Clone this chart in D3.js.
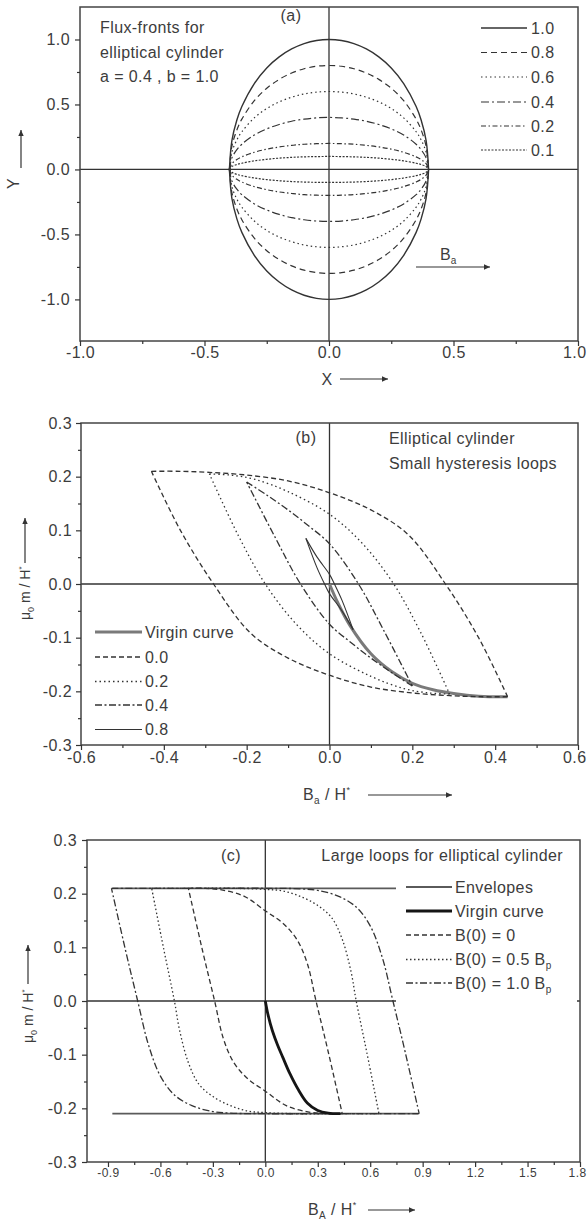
<!DOCTYPE html>
<html lang="en">
<head>
<meta charset="UTF-8">
<title>Elliptical cylinder: flux fronts and hysteresis loops</title>
<script src="https://d3js.org/d3.v7.min.js"></script>
<style>
  body { margin: 0; background: #fff; }
  svg { display: block; }
</style>
</head>
<body>
<svg id="chart" width="587" height="1224"></svg>
<script>
// ---------- data ----------

// (a) flux fronts, upper right quarter (mirrored in x and y when drawn)
const frontLabels = ["1.0", "0.8", "0.6", "0.4", "0.2", "0.1"];
const frontX  = [0, 0.05, 0.1, 0.15, 0.2, 0.25, 0.3, 0.35, 0.37, 0.39, 0.4];
const front10 = [1.0, 0.992, 0.968, 0.927, 0.866, 0.781, 0.661, 0.484, 0.38, 0.222, 0];
const front08 = [0.8, 0.794, 0.775, 0.742, 0.693, 0.625, 0.529, 0.387, 0.304, 0.178, 0];
const front06 = [0.6, 0.595, 0.581, 0.556, 0.52, 0.469, 0.397, 0.29, 0.228, 0.133, 0];
const front04 = [0.4, 0.397, 0.387, 0.371, 0.346, 0.312, 0.265, 0.194, 0.152, 0.089, 0];
const front02 = [0.2, 0.198, 0.194, 0.185, 0.173, 0.156, 0.132, 0.097, 0.076, 0.044, 0];
const front01 = [0.1, 0.099, 0.097, 0.093, 0.087, 0.078, 0.066, 0.048, 0.038, 0.022, 0];

const aXTicks = [-1.0, -0.5, 0.0, 0.5, 1.0];
const aXMinor = [-0.75, -0.25, 0.25, 0.75];
const aYTicks = [-1.0, -0.5, 0.0, 0.5, 1.0];
const aYMinor = [-0.75, -0.25, 0.25, 0.75];

// (b) small hysteresis loops: descending branch (the other one is its point reflection)
const bLabels = ["Virgin curve", "0.0", "0.2", "0.4", "0.8"];
const bVirginX = [0, 0.02, 0.05, 0.1, 0.15, 0.2, 0.25, 0.3, 0.36, 0.43];
const bVirginY = [0, -0.035, -0.078, -0.13, -0.163, -0.185, -0.197, -0.204, -0.209, -0.21];
const bLoop00X = [-0.43, -0.36, -0.29, -0.2, -0.1, 0, 0.1, 0.19, 0.28, 0.36, 0.43];
const bLoop00Y = [0.21, 0.21, 0.208, 0.203, 0.192, 0.17, 0.138, 0.092, 0.0, -0.1, -0.21];
const bLoop02X = [-0.29, -0.24, -0.18, -0.1, 0, 0.08, 0.155, 0.22, 0.29];
const bLoop02Y = [0.205, 0.203, 0.195, 0.172, 0.13, 0.075, 0.0, -0.09, -0.205];
const bLoop04X = [-0.2, -0.15, -0.1, -0.05, 0, 0.07, 0.13, 0.2];
const bLoop04Y = [0.19, 0.165, 0.138, 0.108, 0.075, 0.0, -0.085, -0.19];
const bLoop08X = [-0.057, -0.03, 0, 0.012, 0.03, 0.057];
const bLoop08Y = [0.085, 0.05, 0.018, 0, -0.03, -0.085];

const bXTicks = [-0.6, -0.4, -0.2, 0.0, 0.2, 0.4, 0.6];
const bXMinor = [-0.5, -0.3, -0.1, 0.1, 0.3, 0.5];
const mTicks  = [-0.3, -0.2, -0.1, 0.0, 0.1, 0.2, 0.3];
const mMinor  = [-0.25, -0.15, -0.05, 0.05, 0.15, 0.25];

// (c) large loops
const cEnvX = [-0.875, 0.875];
const cEnvTop = [0.21, 0.21];
const cEnvBottom = [-0.21, -0.21];
const cVirginX = [0, 0.015, 0.04, 0.07, 0.1, 0.14, 0.19, 0.24, 0.3, 0.36, 0.43];
const cVirginY = [0, -0.025, -0.055, -0.082, -0.105, -0.135, -0.166, -0.19, -0.204, -0.209, -0.21];
const cLoop0X  = [-0.44, -0.35, -0.25, -0.12, 0, 0.1, 0.18, 0.24, 0.29, 0.36, 0.44];
const cLoop0Y  = [0.21, 0.21, 0.207, 0.195, 0.168, 0.145, 0.115, 0.07, 0.0, -0.095, -0.21];
const cLoop05X = [-0.65, -0.4, -0.2, 0, 0.1, 0.2, 0.3, 0.38, 0.44, 0.49, 0.52, 0.58, 0.65];
const cLoop05Y = [0.21, 0.21, 0.21, 0.208, 0.205, 0.195, 0.178, 0.155, 0.115, 0.055, 0.0, -0.095, -0.21];
const cLoop10X = [-0.88, -0.6, -0.3, 0, 0.2, 0.3, 0.42, 0.52, 0.6, 0.67, 0.73, 0.8, 0.88];
const cLoop10Y = [0.21, 0.21, 0.21, 0.21, 0.209, 0.206, 0.195, 0.175, 0.14, 0.08, 0.0, -0.095, -0.21];

const cXTicks = [-0.9, -0.6, -0.3, 0.0, 0.3, 0.6, 0.9, 1.2, 1.5, 1.8];
const cXMinor = [-0.75, -0.45, -0.15, 0.15, 0.45, 0.75, 1.05, 1.35, 1.65];

// ---------- drawing ----------
const svg = d3.select("#chart");
const FONT = "'Liberation Sans', Arial, Helvetica, sans-serif";
const INK = "#333";
const TXT = "#3c3c3c";
const PAGE_W = 587;

svg.append("rect").attr("width", PAGE_W).attr("height", 1224).attr("fill", "#fff");

svg.append("defs").append("marker")
    .attr("id", "arrow")
    .attr("viewBox", "0 0 10 10")
    .attr("refX", 10).attr("refY", 5)
    .attr("markerWidth", 7).attr("markerHeight", 5)
    .attr("orient", "auto")
  .append("path")
    .attr("d", "M0,0.5 L10,5 L0,9.5 Z")
    .attr("fill", INK);

const fmt = d => d.toFixed(1);
const smooth = d3.curveCatmullRom.alpha(0.5);

function drawPanel(p) {
    const g = svg.append("g");
    const [left, right] = p.x.range();
    const [bottom, top] = p.y.range();

    // zero lines
    g.append("line")
        .attr("x1", left).attr("x2", right)
        .attr("y1", p.y(0)).attr("y2", p.y(0))
        .attr("stroke", INK).attr("stroke-width", 1.3);
    g.append("line")
        .attr("x1", p.x(0)).attr("x2", p.x(0))
        .attr("y1", top).attr("y2", bottom)
        .attr("stroke", INK).attr("stroke-width", 1.3);

    g.append("rect")
        .attr("x", left).attr("y", top)
        .attr("width", right - left).attr("height", bottom - top)
        .attr("fill", "none").attr("stroke", "#444").attr("stroke-width", 1.5);

    const xa = g.append("g").attr("transform", `translate(0,${bottom})`)
        .call(d3.axisBottom(p.x).tickValues(p.xTicks).tickSize(5)
            .tickPadding(p.xPad).tickFormat(fmt));
    g.append("g").attr("transform", `translate(0,${bottom})`)
        .call(d3.axisBottom(p.x).tickValues(p.xMinor).tickSize(3).tickFormat(""));
    const ya = g.append("g").attr("transform", `translate(${left},0)`)
        .call(d3.axisLeft(p.y).tickValues(p.yTicks).tickSize(5)
            .tickPadding(p.yPad).tickFormat(fmt));
    g.append("g").attr("transform", `translate(${left},0)`)
        .call(d3.axisLeft(p.y).tickValues(p.yMinor).tickSize(3).tickFormat(""));

    g.selectAll(".domain").remove();
    g.selectAll(".tick line").attr("stroke", INK).attr("stroke-width", 1.2);
    xa.attr("font-family", FONT).attr("font-size", p.xFont)
        .selectAll("text").attr("fill", TXT).attr("letter-spacing", "0.4px");
    ya.attr("font-family", FONT).attr("font-size", 16)
        .selectAll("text").attr("fill", TXT).attr("letter-spacing", "0.4px");

    // the last x label sits on the page edge: keep it inside the page
    xa.selectAll(".tick text").filter((d, i, n) => i === n.length - 1)
        .attr("text-anchor", "end").attr("x", PAGE_W - 1 - right);
    return g;
}

function curve(g, x, y, xs, ys, st) {
    g.append("path")
        .datum(d3.zip(xs, ys))
        .attr("d", d3.line().x(d => x(d[0])).y(d => y(d[1])).curve(smooth))
        .attr("fill", "none")
        .attr("stroke", st.color || INK)
        .attr("stroke-width", st.width || 1.2)
        .attr("stroke-dasharray", st.dash || null);
}

function text(g, x, y, str, opt = {}) {
    return g.append("text")
        .attr("x", x).attr("y", y)
        .attr("font-family", FONT)
        .attr("font-size", opt.size || 16)
        .attr("letter-spacing", opt.spacing || "0.4px")
        .attr("text-anchor", opt.anchor || "start")
        .attr("fill", TXT)
        .text(str);
}

function arrow(g, x1, y1, x2, y2) {
    g.append("line")
        .attr("x1", x1).attr("y1", y1).attr("x2", x2).attr("y2", y2)
        .attr("stroke", INK).attr("stroke-width", 1.2)
        .attr("marker-end", "url(#arrow)");
}

// "B_sub / H*" title with arrow
function fieldTitle(g, x, y, sub, arrowTo) {
    const t = g.append("text").attr("x", x).attr("y", y)
        .attr("font-family", FONT).attr("font-size", 16)
        .attr("letter-spacing", "0.4px").attr("fill", TXT);
    t.append("tspan").text("B");
    t.append("tspan").attr("font-size", 10).attr("dy", 4).text(sub);
    t.append("tspan").attr("dy", -4).text(" / H");
    t.append("tspan").attr("font-size", 9).attr("dy", -7).text("*");
    arrow(g, 368, y - 5, arrowTo, y - 5);
}

// rotated "μ0 m / H*" title with arrow
function momentTitle(g, x, yStart, arrowFrom, arrowTo) {
    const t = g.append("text")
        .attr("transform", `translate(${x},${yStart}) rotate(-90)`)
        .attr("font-family", FONT).attr("font-size", 14).attr("fill", TXT);
    t.append("tspan").text("μ");
    t.append("tspan").attr("font-size", 9).attr("dy", 4).text("0");
    t.append("tspan").attr("dy", -4).text(" m / H");
    t.append("tspan").attr("font-size", 8).attr("dy", -6).text("*");
    arrow(g, x - 5, arrowFrom, x - 5, arrowTo);
}

function legend(g, items, x1, x2, tx, ys) {
    items.forEach((it, i) => {
        g.append("line")
            .attr("x1", x1).attr("x2", x2).attr("y1", ys[i]).attr("y2", ys[i])
            .attr("stroke", it.st.color || INK)
            .attr("stroke-width", it.st.width || 1.2)
            .attr("stroke-dasharray", it.st.dash || null);
        it.draw ? it.draw(tx, ys[i] + 5.7) : text(g, tx, ys[i] + 5.7, it.label);
    });
}

// ===== panel (a) =====
const aX = d3.scaleLinear().domain([-1, 1]).range([80, 578]);
const aY = d3.scaleLinear().domain([-1.32, 1.25]).range([341, 7]);
const gA = drawPanel({ x: aX, y: aY, xTicks: aXTicks, xMinor: aXMinor,
    yTicks: aYTicks, yMinor: aYMinor, xPad: 1, yPad: 5, xFont: 16 });

const frontData = [front10, front08, front06, front04, front02, front01];
const frontStyle = [
    { width: 1.4 },
    { dash: "6,4" },
    { dash: "1.5,3" },
    { dash: "8,3,2,3" },
    { dash: "5,2.5,1.5,2.5" },
    { dash: "2,1.5" }
];
const fullX = frontX.slice().reverse().map(v => -v).concat(frontX.slice(1));
frontData.forEach((ys, i) => {
    const upper = ys.slice().reverse().concat(ys.slice(1));
    curve(gA, aX, aY, fullX, upper, frontStyle[i]);
    curve(gA, aX, aY, fullX, upper.map(v => -v), frontStyle[i]);
});

text(gA, 291, 21, "(a)", { anchor: "middle" });
text(gA, 100, 32.5, "Flux-fronts for");
text(gA, 100, 57.5, "elliptical  cylinder");
text(gA, 100, 82, "a = 0.4 , b = 1.0");
legend(gA, frontLabels.map((l, i) => ({ label: l, st: frontStyle[i] })),
    481, 527, 531, [28, 52.5, 77, 102, 126, 150]);

const ba = gA.append("text").attr("x", 440).attr("y", 260)
    .attr("font-family", FONT).attr("font-size", 16).attr("fill", TXT);
ba.append("tspan").text("B");
ba.append("tspan").attr("font-size", 10).attr("dy", 4).text("a");
arrow(gA, 416, 267, 490, 267);

text(gA, 327, 385, "X", { anchor: "middle" });
arrow(gA, 340, 379, 388, 379);
gA.append("text")
    .attr("transform", "translate(19,189) rotate(-90)")
    .attr("font-family", FONT).attr("font-size", 16).attr("fill", TXT)
    .text("Y");
arrow(gA, 21, 168, 21, 130);

// ===== panel (b) =====
const bX = d3.scaleLinear().domain([-0.6, 0.6]).range([81, 578]);
const bY = d3.scaleLinear().domain([-0.3, 0.3]).range([745, 423]);
const gB = drawPanel({ x: bX, y: bY, xTicks: bXTicks, xMinor: bXMinor,
    yTicks: mTicks, yMinor: mMinor, xPad: 2, yPad: 4, xFont: 16 });

const bStyle = [
    { width: 3, color: "#7a7a7a" },
    { dash: "5,3", width: 1.3 },
    { dash: "1.5,3", width: 1.3 },
    { dash: "7,2.5,2,2.5", width: 1.3 },
    { width: 1.1 }
];
const bLoops = [[bLoop00X, bLoop00Y], [bLoop02X, bLoop02Y], [bLoop04X, bLoop04Y], [bLoop08X, bLoop08Y]];
curve(gB, bX, bY, bVirginX, bVirginY, bStyle[0]);
bLoops.forEach(([xs, ys], i) => {
    curve(gB, bX, bY, xs, ys, bStyle[i + 1]);
    curve(gB, bX, bY, xs.map(v => -v), ys.map(v => -v), bStyle[i + 1]);
});

text(gB, 306, 443, "(b)", { anchor: "middle" });
text(gB, 389, 444, "Elliptical cylinder");
text(gB, 389, 468.5, "Small hysteresis loops");
legend(gB, bLabels.map((l, i) => ({ label: l, st: bStyle[i] })),
    95, 142, 145, [632, 657, 681.5, 705, 729.5]);

fieldTitle(gB, 303, 800, "a", 452);
momentTitle(gB, 30, 620, 563, 518);

// ===== panel (c) =====
const cX = d3.scaleLinear().domain([-1.02, 1.8]).range([87, 580]);
const cY = d3.scaleLinear().domain([-0.3, 0.3]).range([1162, 840]);
const gC = drawPanel({ x: cX, y: cY, xTicks: cXTicks, xMinor: cXMinor,
    yTicks: mTicks, yMinor: mMinor, xPad: 1, yPad: 5, xFont: 12 });

const cStyle = [
    { width: 1.8, color: "#5a5a5a" },
    { width: 2.8, color: "#151515" },
    { dash: "5,3", width: 1.3 },
    { dash: "1.5,2.5", width: 1.3 },
    { dash: "7,2.5,2,2.5", width: 1.3 }
];
curve(gC, cX, cY, cEnvX, cEnvTop, cStyle[0]);
curve(gC, cX, cY, cEnvX, cEnvBottom, cStyle[0]);

// white legend backing hides the lines that run under it
gC.append("rect").attr("x", 396).attr("y", 878).attr("width", 181).attr("height", 128)
    .attr("fill", "#fff");

const cLoops = [[cLoop0X, cLoop0Y], [cLoop05X, cLoop05Y], [cLoop10X, cLoop10Y]];
cLoops.forEach(([xs, ys], i) => {
    curve(gC, cX, cY, xs, ys, cStyle[i + 2]);
    curve(gC, cX, cY, xs.map(v => -v), ys.map(v => -v), cStyle[i + 2]);
});
curve(gC, cX, cY, cVirginX, cVirginY, cStyle[1]);

text(gC, 231, 861, "(c)", { anchor: "middle" });
text(gC, 563, 861, "Large loops for elliptical cylinder", { anchor: "end" });

function bp(value) {
    return (x, y) => {
        const t = gC.append("text").attr("x", x).attr("y", y)
            .attr("font-family", FONT).attr("font-size", 16)
            .attr("letter-spacing", "0.4px").attr("fill", TXT);
        t.append("tspan").text(`B(0) = ${value} B`);
        t.append("tspan").attr("font-size", 10).attr("dy", 4).text("p");
    };
}
legend(gC, [
    { label: "Envelopes", st: cStyle[0] },
    { label: "Virgin curve", st: cStyle[1] },
    { label: "B(0) = 0", st: cStyle[2] },
    { draw: bp("0.5"), st: cStyle[3] },
    { draw: bp("1.0"), st: cStyle[4] }
], 406, 452, 455, [887, 911, 935, 959.5, 983]);

fieldTitle(gC, 308, 1215, "A", 415);
momentTitle(gC, 33, 1043, 984, 945);
</script>
</body>
</html>
